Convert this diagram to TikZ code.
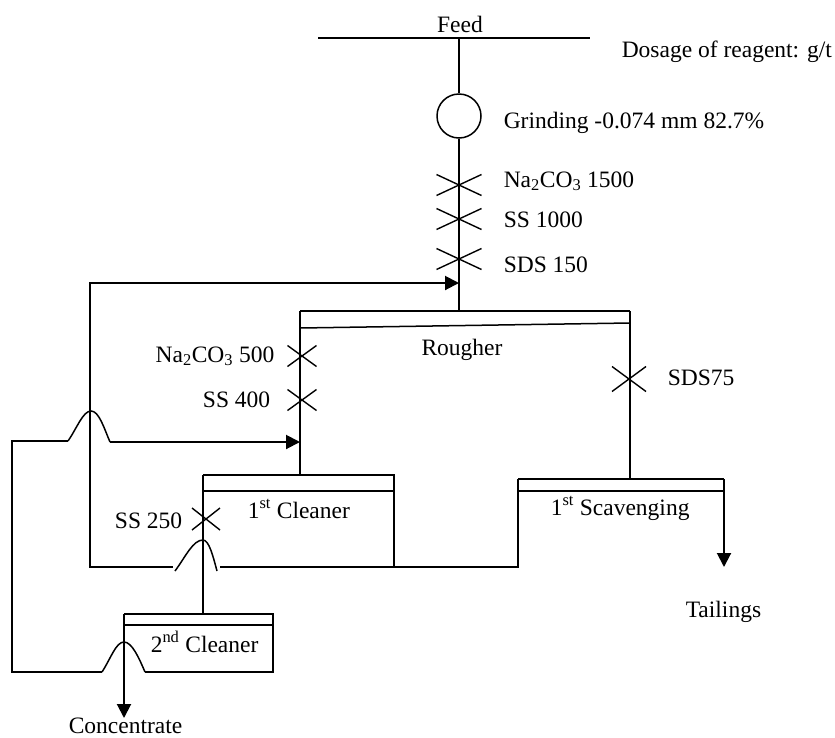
\documentclass[tikz,border=0pt]{standalone}
\usepackage{fontspec}
\setmainfont{Liberation Serif}
\usetikzlibrary{arrows.meta}
\begin{document}
\begin{tikzpicture}[x=1pt,y=-1pt,
  line width=1.5pt,
  lbl/.style={inner sep=0pt,font=\fontsize{23.5}{28}\selectfont},
  flow/.style={line width=2pt,-{Triangle[length=14pt,width=14pt]}},
  pics/xm/.style 2 args={code={\draw[line width=1.4pt] (-#1,-#2)--(#1,#2) (-#1,#2)--(#1,-#2);}}]
\useasboundingbox (0,0) rectangle (835,737);
% coordinates
\coordinate (feedL) at (318,38);
\coordinate (feedR) at (590,38);
\coordinate (feedM) at (459,38);
\node[circle,draw,minimum size=44pt,inner sep=0pt] (mill) at (459,116) {};
\coordinate (rTop) at (459,311);
\coordinate (rTL) at (300,311);
\coordinate (rTR) at (630,311);
\coordinate (cTL) at (203,475);
\coordinate (cTR) at (394,475);
\coordinate (cBR) at (394,567);
\coordinate (clIn) at (300,475);
\coordinate (sTL) at (518,479);
\coordinate (sTR) at (724,479);
\coordinate (sBL) at (518,567);
\coordinate (tailEnd) at (724,567);
\coordinate (c2TL) at (124,614);
\coordinate (c2TR) at (273,614);
\coordinate (c2BR) at (273,672);
\coordinate (c2In) at (203,614);
\coordinate (concEnd) at (124,718);
\coordinate (retA) at (459,283);
\coordinate (retB) at (300,442);
% feed and grinding
\draw (feedL) -- (feedR);
\draw (feedM) -- (mill.north);
\draw (mill.south) -- (rTop);
% rougher
\draw (rTL) -- (rTR);
\draw (300,328) -- (630,323);
\draw (rTL) -- (clIn);
\draw (rTR) -- (sTL -| rTR);
% 1st cleaner
\draw (cTL) -- (cTR) -- (cBR);
\draw (203,491) -- (394,491);
\draw (cTL) -- (c2In);
% scavenging
\draw (sTL) -- (sTR);
\draw (518,491) -- (724,491);
\draw (sTL) -- (sBL) -- (220,567);
\draw[flow] (sTR) -- (tailEnd);
% return 1 to rougher feed
\draw (175,571) .. controls (186,556) and (193,540) .. (203,540) .. controls (209,540) and (213,556) .. (217,571);
\draw[flow] (173,567) -- (90,567) -- (90,283) -- (retA);
% 2nd cleaner
\draw (c2TL) -- (c2TR) -- (c2BR) -- (145,672);
\draw (124,625) -- (273,625);
\draw[flow] (c2TL) -- (concEnd);
\draw (102,672) .. controls (111,658) and (116,642) .. (124,642) .. controls (132,642) and (139,658) .. (145,672);
\draw (102,672) -- (12,672) -- (12,441) -- (68,441);
\draw (68,441) .. controls (77,428) and (83,411) .. (91,411) .. controls (99,411) and (104,428) .. (110,442);
\draw[flow] (110,442) -- (retB);
% reagent marks
\pic at (459,185) {xm={22.5}{10.5}};
\pic at (459,219) {xm={22.5}{10.5}};
\pic at (459,259) {xm={22.5}{10.5}};
\pic at (302,356) {xm={14.5}{10.5}};
\pic at (302,400) {xm={14.5}{10.5}};
\pic at (629,379) {xm={17}{12.5}};
\pic at (206,519) {xm={14}{11}};
% labels
\node[lbl,anchor=base] (tFeed) at (460,32) {Feed};
\node[lbl,anchor=base west] (tDose) at (621,57) {Dosage of reagent: g/t};
\node[lbl,anchor=base west] (tGrind) at (503,128) {Grinding -0.074 mm 82.7\%};
\node[lbl,anchor=base west] (tNa1) at (503,187) {Na\textsubscript{2}CO\textsubscript{3} 1500};
\node[lbl,anchor=base west] (tSS1) at (503,227) {SS 1000};
\node[lbl,anchor=base west] (tSDS1) at (503,272) {SDS 150};
\node[lbl,anchor=base] (tRough) at (462,355) {Rougher};
\node[lbl,anchor=base east] (tNa2) at (275,362) {Na\textsubscript{2}CO\textsubscript{3} 500};
\node[lbl,anchor=base east] (tSS2) at (271,407) {SS 400};
\node[lbl,anchor=base west] (tSDS2) at (667,385) {SDS75};
\node[lbl,anchor=base west] (tC1) at (247,518) {1\textsuperscript{st} Cleaner};
\node[lbl,anchor=base east] (tSS3) at (183,528) {SS 250};
\node[lbl,anchor=base west] (tScav) at (550,515) {1\textsuperscript{st} Scavenging};
\node[lbl,anchor=base west] (tTail) at (685,617) {Tailings};
\node[lbl,anchor=base west] (tC2) at (150,652) {2\textsuperscript{nd} Cleaner};
\node[lbl,anchor=base west] (tConc) at (68,733) {Concentrate};
\end{tikzpicture}
\end{document}
